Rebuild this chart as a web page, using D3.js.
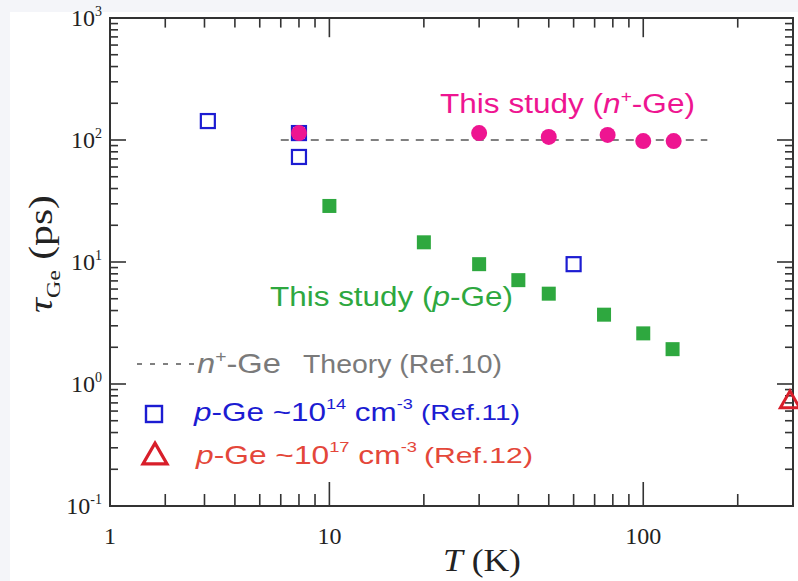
<!DOCTYPE html>
<html>
<head>
<meta charset="utf-8">
<script src="https://cdn.jsdelivr.net/npm/d3@7"></script>
<style>
  body { margin: 0; background: #f4f5f9; }
  svg { display: block; }
</style>
</head>
<body>
<div id="chart"></div>
<script>
// --- Data ---
// This study, p-Ge (filled green squares)
const pGeT = [10, 20, 30, 40, 50, 75, 100, 124];
const pGeTau = [28.8, 14.5, 9.6, 7.1, 5.5, 3.7, 2.6, 1.93];
// This study, n+-Ge (filled magenta circles)
const nGeT = [8, 30, 50, 77, 100, 125];
const nGeTau = [114, 114, 106, 110, 98, 98];
// Ref.11, p-Ge ~1e14 (open blue squares)
const ref11T = [4.1, 8, 8, 60];
const ref11Tau = [143, 114, 72.6, 9.6];
// Ref.12, p-Ge ~1e17 (open red triangle)
const ref12T = [300];
const ref12Tau = [0.71];
// Ref.10 theory, n+-Ge (dashed line)
const theoryT = [7, 160];
const theoryTau = [100, 100];

// axis ticks
const xMinorTicks = [3, 4, 5, 6, 7, 8, 9, 20, 30, 40, 50, 60, 70, 80, 90, 200];
const xMajorTicks = [10, 100];
const xLabelValues = [2, 10, 100];
const xLabelText = ['1', '10', '100'];
const yMajorTicks = [0.1, 1, 10, 100, 1000];
const yLabelExp = ['-1', '0', '1', '2', '3'];

const width = 798, height = 581;
const margin = {left: 110, right: 5, top: 18, bottom: 75};
const colors = {
  green: '#2ea83f', magenta: '#ee1591', blue: '#1c1cd2', red: '#d81e2a',
  redText: '#e4473a', gray: '#7a7a7a', axis: '#333'
};
const serif = '"Liberation Serif", "DejaVu Serif", serif';
const sans = '"Liberation Sans", Arial, sans-serif';

const svg = d3.select('#chart').append('svg')
  .attr('width', width).attr('height', height);

svg.append('rect')
  .attr('x', 10).attr('y', 12)
  .attr('width', width - 10).attr('height', height - 12)
  .attr('fill', '#fff');

const x = d3.scaleLog().domain([2, 300]).range([margin.left, width - margin.right]);
const y = d3.scaleLog().domain([0.1, 1000]).range([height - margin.bottom, margin.top]);

const x0 = x.range()[0], x1 = x.range()[1];
const y0 = y.range()[0], y1 = y.range()[1];

// y minor ticks: 2..9 in each decade
const yMinorTicks = [];
for (let e = -1; e < 3; e++) {
  for (let k = 2; k <= 9; k++) yMinorTicks.push(k * Math.pow(10, e));
}

const axisG = svg.append('g')
  .attr('stroke', colors.axis).attr('stroke-width', 1.6);

// bottom + top ticks (inward)
function xTicks(vals, len) {
  axisG.selectAll(null).data(vals).join('line')
    .attr('x1', d => x(d)).attr('x2', d => x(d))
    .attr('y1', y0).attr('y2', y0 - len);
  axisG.selectAll(null).data(vals).join('line')
    .attr('x1', d => x(d)).attr('x2', d => x(d))
    .attr('y1', y1).attr('y2', y1 + len * 0.8);
}
xTicks(xMinorTicks, 12);
xTicks(xMajorTicks, 24);

// left + right ticks (inward)
function yTicks(vals, len) {
  axisG.selectAll(null).data(vals).join('line')
    .attr('y1', d => y(d)).attr('y2', d => y(d))
    .attr('x1', x0).attr('x2', x0 + len);
  axisG.selectAll(null).data(vals).join('line')
    .attr('y1', d => y(d)).attr('y2', d => y(d))
    .attr('x1', x1).attr('x2', x1 - len);
}
yTicks(yMinorTicks, 8);
yTicks(yMajorTicks, 16);

// frame
svg.append('rect')
  .attr('x', x0).attr('y', y1)
  .attr('width', x1 - x0).attr('height', y0 - y1)
  .attr('fill', 'none').attr('stroke', colors.axis).attr('stroke-width', 2);

// tick labels
svg.selectAll('.xlab').data(xLabelValues).join('text')
  .attr('class', 'xlab')
  .attr('x', d => x(d)).attr('y', y0 + 38)
  .attr('text-anchor', 'middle')
  .attr('font-family', serif).attr('font-size', 24).attr('fill', '#222')
  .text((d, i) => xLabelText[i]);

const ylab = svg.selectAll('.ylab').data(yMajorTicks).join('text')
  .attr('class', 'ylab')
  .attr('x', x0 - 8).attr('y', d => y(d) + 8)
  .attr('text-anchor', 'end')
  .attr('font-family', serif).attr('font-size', 24).attr('fill', '#222');
ylab.append('tspan').text('10');
ylab.append('tspan').attr('dy', -10).attr('font-size', 14).text((d, i) => yLabelExp[i]);

// text made of styled parts, stretched along its baseline to a given length
function rich(parent, parts, o) {
  const g = parent.append('g');
  const t = g.append('text')
    .attr('font-family', o.family || sans).attr('font-size', o.size).attr('fill', o.color);
  parts.forEach(p => {
    const s = t.append('tspan').text(p.t);
    if (p.i) s.attr('font-style', 'italic');
    if (p.size) s.attr('font-size', p.size);
    if (p.dy) s.attr('dy', p.dy);
  });
  const w = t.node().getComputedTextLength();
  const sx = o.len ? o.len / w : 1;
  const shift = o.anchor === 'middle' ? -w / 2 : 0;
  t.attr('x', shift);
  g.attr('transform', `translate(${o.x},${o.y})${o.rotate ? ` rotate(${o.rotate})` : ''} scale(${sx},1)`);
  return g;
}

// axis titles
rich(svg, [{t: 'T', i: true}, {t: ' (K)'}],
  {x: 482, y: 571, size: 31, color: '#222', family: serif, anchor: 'middle', len: 78});
rich(svg, [{t: 'τ', i: true}, {t: 'Ge', size: 19, dy: 8}, {t: ' (ps)', dy: -8}],
  {x: 52, y: 254, size: 33, color: '#222', family: serif, anchor: 'middle', len: 118, rotate: -90});

// theory dashed line
const line = d3.line().x(d => x(d[0])).y(d => y(d[1]));
svg.append('path')
  .datum(theoryT.map((t, i) => [t, theoryTau[i]]))
  .attr('d', line)
  .attr('fill', 'none').attr('stroke', '#808080').attr('stroke-width', 2)
  .attr('stroke-dasharray', '8,7');

// Ref.11 open squares
const sq = 14;
svg.selectAll('.ref11').data(ref11T).join('rect')
  .attr('class', 'ref11')
  .attr('x', d => x(d) - sq / 2)
  .attr('y', (d, i) => y(ref11Tau[i]) - sq / 2)
  .attr('width', sq).attr('height', sq)
  .attr('fill', 'none').attr('stroke', colors.blue).attr('stroke-width', 2.2);

// p-Ge squares
svg.selectAll('.pge').data(pGeT).join('rect')
  .attr('class', 'pge')
  .attr('x', d => x(d) - sq / 2)
  .attr('y', (d, i) => y(pGeTau[i]) - sq / 2)
  .attr('width', sq).attr('height', sq)
  .attr('fill', colors.green);

// n+-Ge circles
svg.selectAll('.nge').data(nGeT).join('circle')
  .attr('class', 'nge')
  .attr('cx', d => x(d))
  .attr('cy', (d, i) => y(nGeTau[i]))
  .attr('r', 8)
  .attr('fill', colors.magenta);

// Ref.12 triangle
const tri = d3.symbol().type(d3.symbolTriangle).size(160);
svg.selectAll('.ref12').data(ref12T).join('path')
  .attr('class', 'ref12')
  .attr('transform', (d, i) => `translate(${x(d) - 3},${y(ref12Tau[i])})`)
  .attr('d', tri)
  .attr('fill', 'none').attr('stroke', colors.red).attr('stroke-width', 3);

// annotations
rich(svg, [
  {t: 'This study ('}, {t: 'n', i: true}, {t: '+', size: 17, dy: -11}, {t: '-Ge)', dy: 11}
], {x: 440, y: 113, size: 28, color: colors.magenta, len: 255});

rich(svg, [
  {t: 'This study ('}, {t: 'p', i: true}, {t: '-Ge)'}
], {x: 270, y: 306, size: 28, color: colors.green, len: 243});

// legend
const lg = svg.append('g');
lg.append('line')
  .attr('x1', 137).attr('x2', 197).attr('y1', 364).attr('y2', 364)
  .attr('stroke', '#808080').attr('stroke-width', 2).attr('stroke-dasharray', '5,8');
rich(lg, [{t: 'n', i: true}, {t: '+', size: 16, dy: -11}, {t: '-Ge', dy: 11}],
  {x: 197, y: 373, size: 27, color: colors.gray, len: 84});
rich(lg, [{t: 'Theory (Ref.10)'}],
  {x: 303, y: 373, size: 25, color: colors.gray, len: 199});

const lsq = 16;
lg.append('rect')
  .attr('x', 154 - lsq / 2).attr('y', 414 - lsq / 2).attr('width', lsq).attr('height', lsq)
  .attr('fill', 'none').attr('stroke', colors.blue).attr('stroke-width', 2.4);
rich(lg, [
  {t: 'p', i: true}, {t: '-Ge ~10'}, {t: '14', size: 15, dy: -12}, {t: ' cm', dy: 12},
  {t: '-3', size: 15, dy: -12}
], {x: 194, y: 421, size: 26, color: colors.blue, len: 219});
rich(lg, [{t: '(Ref.11)'}], {x: 421, y: 420, size: 22, color: colors.blue, len: 99});

lg.append('path')
  .attr('transform', 'translate(155,457)')
  .attr('d', d3.symbol().type(d3.symbolTriangle).size(250))
  .attr('fill', 'none').attr('stroke', colors.red).attr('stroke-width', 3.2);
rich(lg, [
  {t: 'p', i: true}, {t: '-Ge  ~10'}, {t: '17', size: 15, dy: -12}, {t: ' cm', dy: 12},
  {t: '-3', size: 15, dy: -12}
], {x: 196, y: 464, size: 26, color: colors.redText, len: 221});
rich(lg, [{t: '(Ref.12)'}], {x: 424, y: 463, size: 22, color: colors.redText, len: 109});
</script>
</body>
</html>
